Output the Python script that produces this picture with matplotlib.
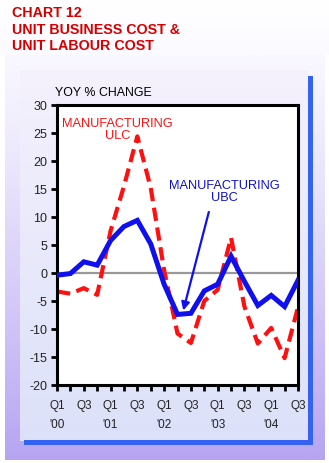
import numpy as np
import matplotlib
matplotlib.use('Agg')
import matplotlib.pyplot as plt
from matplotlib.colors import to_rgb

plt.rcParams['font.family'] = ['Liberation Sans', 'DejaVu Sans']

# quarterly data, Q1 '00 .. Q3 '04 (yoy % change)
quarters = ['Q1', 'Q2', 'Q3', 'Q4'] * 4 + ['Q1', 'Q2', 'Q3']
years = ["'00", "'01", "'02", "'03", "'04"]
ubc = [-0.4, -0.1, 2.0, 1.4, 5.8, 8.3, 9.4, 5.2, -2.0, -7.4, -7.2,
       -3.2, -2.0, 3.0, -1.5, -5.8, -4.0, -6.0, -1.3]
ulc = [-3.3, -3.7, -2.7, -3.9, 7.5, 15.5, 24.4, 15.2, 0.5, -10.8, -12.5,
       -5.0, -3.0, 6.3, -6.0, -12.6, -9.8, -15.2, -6.1]
y_ticks = [-20, -15, -10, -5, 0, 5, 10, 15, 20, 25, 30]

W, H = 329, 463
fig = plt.figure(figsize=(W / 100, H / 100), dpi=100, facecolor='white')

# background panels drawn in pixel space
bg = fig.add_axes([0, 0, 1, 1], zorder=-10)
bg.set_xlim(0, W)
bg.set_ylim(H, 0)
bg.axis('off')


def vgrad(ax, x0, x1, y0, y1, c_top, c_bot, gamma=1.0):
    t = np.linspace(0, 1, 200) ** gamma
    a, b = np.array(to_rgb(c_top)), np.array(to_rgb(c_bot))
    img = (a[None, :] * (1 - t[:, None]) + b[None, :] * t[:, None])[:, None, :]
    ax.imshow(img, extent=(x0, x1, y1, y0), aspect='auto', interpolation='bilinear')


vgrad(bg, 0, W, 0, 55, '#ffffff', '#fbfaff')
vgrad(bg, 5, 325, 55, 460, '#f9f7ff', '#b6a4f2', gamma=1.2)
vgrad(bg, 20, 308, 70, 441, '#f5f1fd', '#dce1f9')
bg.add_patch(plt.Rectangle((308, 76), 5, 369, color='#3463f2', lw=0))
bg.add_patch(plt.Rectangle((24, 440), 289, 5, color='#3463f2', lw=0))
bg.set_xlim(0, W)
bg.set_ylim(H, 0)

# title
red_title = '#d40000'
for txt, yy in [('CHART 12', 13), ('UNIT BUSINESS COST &', 30), ('UNIT LABOUR COST', 46)]:
    fig.text(12.5 / W, 1 - yy / H, txt, color=red_title, fontsize=10.3,
             fontweight='bold', ha='left', va='center')

fig.text(55 / W, 1 - 93 / H, 'YOY % CHANGE', fontsize=8.9, ha='left', va='center')

ax = fig.add_axes([57 / W, 1 - 385 / H, 241 / W, 280 / H])
ax.set_facecolor('white')
x = np.arange(len(ubc))

ax.axhline(0, color='#999999', lw=1.6, zorder=1)
ax.plot(x, ulc, color='#ff1010', lw=3, linestyle=(0, (3.2, 1.6)), zorder=2)
ax.plot(x, ubc, color='#1010ee', lw=3.6, solid_joinstyle='miter', zorder=3)

ax.set_xlim(0, 18)
ax.set_ylim(-20, 30)
ax.set_yticks(y_ticks)
ax.set_yticklabels([str(v) for v in y_ticks], fontsize=9)

xt_labels = []
for i, q in enumerate(quarters):
    if q == 'Q1':
        xt_labels.append(f'Q1\n{years[i // 4]}')
    elif q == 'Q3':
        xt_labels.append('Q3')
    else:
        xt_labels.append('')
ax.set_xticks(x)
ax.set_xticklabels(xt_labels, fontsize=8.5, linespacing=1.7, va='top')

for s in ax.spines.values():
    s.set_linewidth(2.2)
    s.set_color('black')
ax.tick_params(axis='both', direction='out', length=4, width=2, color='black',
               labelcolor='#222222')
ax.tick_params(axis='y', pad=3)
ax.tick_params(axis='x', pad=7)

ax.text(4.52, 25.5, 'MANUFACTURING\nULC', color='#ff1010', fontsize=9.2,
        ha='center', va='center', linespacing=1.0)
ax.text(12.47, 14.5, 'MANUFACTURING\nUBC', color='#1010cc', fontsize=9.2,
        ha='center', va='center', linespacing=1.0)
ax.annotate('', xy=(9.43, -6.7), xytext=(11.34, 10.9),
            arrowprops=dict(arrowstyle='-|>', color='#1010ee', lw=1.6,
                            mutation_scale=12, shrinkA=0, shrinkB=0))

fig.savefig('out.png', dpi=100)
